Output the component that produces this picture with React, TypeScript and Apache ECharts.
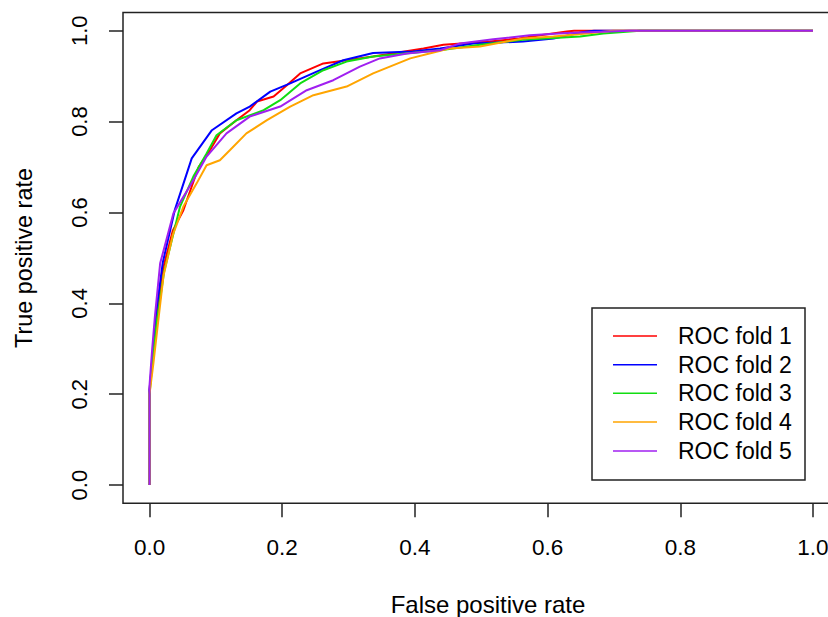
import React, { useEffect, useRef } from "react";
import * as echarts from "echarts";

const seriesNames = ["ROC fold 1", "ROC fold 2", "ROC fold 3", "ROC fold 4", "ROC fold 5"];
const seriesColors = ["#FF0000", "#0000FF", "#11DD11", "#FFA500", "#A020F0"];
const tickValues = [0, 0.2, 0.4, 0.6, 0.8, 1.0];
const xTitle = "False positive rate";
const yTitle = "True positive rate";

const fold1Fpr = [0, 0, 0.005, 0.011, 0.021, 0.035, 0.051, 0.074, 0.091, 0.106, 0.131, 0.151, 0.162, 0.187, 0.207, 0.227, 0.262, 0.297, 0.337, 0.413, 0.443, 0.513, 0.557, 0.589, 0.629, 0.64, 1];
const fold1Tpr = [0, 0.21, 0.28, 0.37, 0.48, 0.56, 0.605, 0.7, 0.737, 0.774, 0.803, 0.825, 0.844, 0.855, 0.88, 0.906, 0.928, 0.935, 0.943, 0.961, 0.969, 0.976, 0.983, 0.99, 0.998, 1, 1];

const fold2Fpr = [0, 0, 0.005, 0.009, 0.02, 0.038, 0.0636, 0.094, 0.131, 0.151, 0.182, 0.212, 0.252, 0.292, 0.337, 0.397, 0.438, 0.488, 0.563, 0.609, 0.654, 0.67, 1];
const fold2Tpr = [0, 0.21, 0.29, 0.37, 0.49, 0.605, 0.719, 0.781, 0.818, 0.833, 0.866, 0.884, 0.91, 0.935, 0.951, 0.954, 0.961, 0.972, 0.976, 0.983, 0.997, 1, 1];

const fold3Fpr = [0, 0, 0.005, 0.011, 0.022, 0.046, 0.066, 0.086, 0.101, 0.131, 0.172, 0.197, 0.227, 0.262, 0.297, 0.337, 0.438, 0.498, 0.563, 0.649, 0.684, 0.739, 1];
const fold3Tpr = [0, 0.2, 0.28, 0.36, 0.47, 0.613, 0.679, 0.73, 0.77, 0.803, 0.825, 0.847, 0.884, 0.913, 0.932, 0.943, 0.957, 0.969, 0.98, 0.987, 0.994, 1, 1];

const fold4Fpr = [0, 0, 0.006, 0.013, 0.021, 0.035, 0.051, 0.071, 0.086, 0.106, 0.121, 0.146, 0.177, 0.212, 0.247, 0.297, 0.337, 0.393, 0.428, 0.453, 0.498, 0.538, 0.563, 0.609, 0.659, 0.699, 1];
const fold4Tpr = [0, 0.2, 0.27, 0.36, 0.46, 0.55, 0.613, 0.664, 0.704, 0.715, 0.737, 0.774, 0.803, 0.833, 0.858, 0.877, 0.906, 0.939, 0.952, 0.961, 0.965, 0.976, 0.983, 0.987, 0.994, 1, 1];

const fold5Fpr = [0, 0, 0.004, 0.008, 0.016, 0.036, 0.066, 0.086, 0.116, 0.151, 0.197, 0.237, 0.277, 0.317, 0.347, 0.388, 0.438, 0.468, 0.518, 0.573, 0.629, 0.724, 1];
const fold5Tpr = [0, 0.22, 0.3, 0.37, 0.488, 0.598, 0.671, 0.723, 0.774, 0.811, 0.833, 0.869, 0.891, 0.921, 0.939, 0.95, 0.957, 0.972, 0.981, 0.99, 0.995, 1, 1];

const foldFpr = [fold1Fpr, fold2Fpr, fold3Fpr, fold4Fpr, fold5Fpr];
const foldTpr = [fold1Tpr, fold2Tpr, fold3Tpr, fold4Tpr, fold5Tpr];

const FONT = "Liberation Sans, Arial, Helvetica, sans-serif";

export default function App() {
  const ref = useRef<HTMLDivElement>(null);

  useEffect(() => {
    if (!ref.current) return;
    const chart = echarts.init(ref.current, null, { renderer: "svg" });

    const series = seriesNames.map((name, i) => ({
      name,
      type: "line",
      data: foldFpr[i].map((x, j) => [x, foldTpr[i][j]]),
      showSymbol: false,
      symbol: "none",
      lineStyle: { color: seriesColors[i], width: 2 },
      itemStyle: { color: seriesColors[i] },
      z: 2 + i,
    }));

    const legendLeft = 592;
    const legendTop = 308;
    const rowY = [336, 364.7, 393.3, 422, 451];
    const legendChildren: any[] = [
      {
        type: "rect",
        shape: { x: legendLeft, y: legendTop, width: 213, height: 172 },
        style: { fill: "#fff", stroke: "#222", lineWidth: 1.5 },
      },
    ];
    seriesNames.forEach((name, i) => {
      legendChildren.push({
        type: "line",
        shape: { x1: 613, y1: rowY[i], x2: 657, y2: rowY[i] },
        style: { stroke: seriesColors[i], lineWidth: 1.5 },
      });
      legendChildren.push({
        type: "text",
        x: 678,
        y: rowY[i],
        style: {
          text: name,
          fill: "#000",
          font: `23px ${FONT}`,
          textVerticalAlign: "middle",
          textAlign: "left",
        },
      });
    });

    const titles: any[] = [
      {
        type: "text",
        x: 488,
        y: 604,
        style: {
          text: xTitle,
          fill: "#000",
          font: `24px ${FONT}`,
          textAlign: "center",
          textVerticalAlign: "middle",
        },
      },
      {
        type: "text",
        x: 24,
        y: 258,
        rotation: Math.PI / 2,
        style: {
          text: yTitle,
          fill: "#000",
          font: `23.4px ${FONT}`,
          textAlign: "center",
          textVerticalAlign: "middle",
        },
      },
    ];

    chart.setOption({
      animation: false,
      backgroundColor: "#fff",
      textStyle: { fontFamily: FONT },
      grid: {
        show: true,
        left: 123,
        top: 12.5,
        width: 716.5,
        height: 490.8,
        borderColor: "#222",
        borderWidth: 1.5,
        containLabel: false,
        outerBoundsMode: "none",
      },
      xAxis: {
        type: "value",
        min: -0.04,
        max: 1.04,
        axisLine: { show: false, onZero: false },
        splitLine: { show: false },
        axisTick: {
          show: true,
          inside: false,
          length: 14,
          customValues: tickValues,
          lineStyle: { color: "#222", width: 1.5 },
        },
        axisLabel: {
          show: true,
          customValues: tickValues,
          margin: 33,
          fontSize: 22.5,
          color: "#000",
          fontFamily: FONT,
          hideOverlap: false,
          formatter: (v: number) => v.toFixed(1),
        },
      },
      yAxis: {
        type: "value",
        min: -0.04,
        max: 1.04,
        axisLine: { show: false, onZero: false },
        splitLine: { show: false },
        axisTick: {
          show: true,
          inside: false,
          length: 14,
          customValues: tickValues,
          lineStyle: { color: "#222", width: 1.5 },
        },
        axisLabel: {
          show: true,
          customValues: tickValues,
          rotate: 90,
          margin: 33,
          fontSize: 22,
          color: "#000",
          fontFamily: FONT,
          formatter: (v: number) => v.toFixed(1),
        },
      },
      series,
      graphic: [
        { type: "group", z: 100, children: legendChildren },
        { type: "group", z: 100, children: titles },
      ],
    });

    return () => chart.dispose();
  }, []);

  return (
    <div
      ref={ref}
      style={{ position: "fixed", left: 0, top: 0, width: 828, height: 617 }}
    />
  );
}
